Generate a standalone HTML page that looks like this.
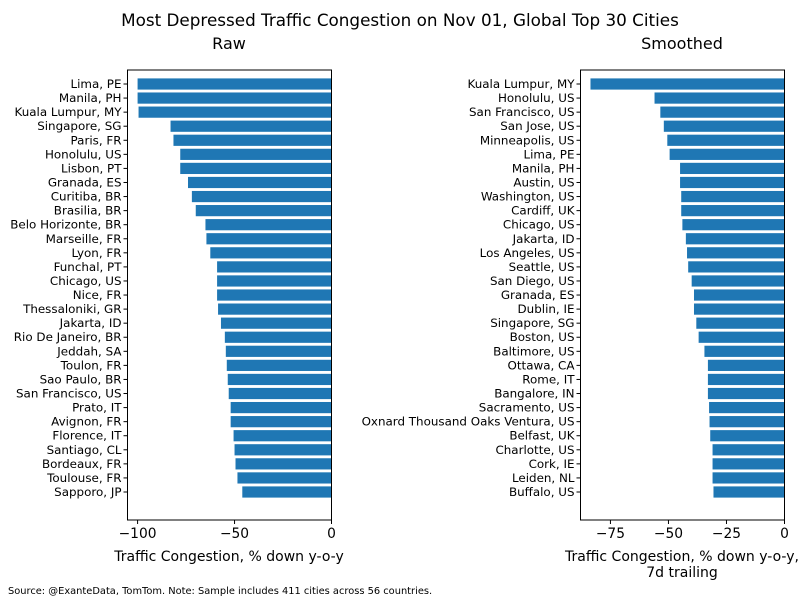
<!DOCTYPE html>
<html><head><meta charset="utf-8"><style>
body{margin:0;background:#fff;font-family:"DejaVu Sans","Liberation Sans",sans-serif}
svg text{font-family:"DejaVu Sans","Liberation Sans",sans-serif;fill:#000}
</style></head><body>
<svg id="c" width="800" height="600" xmlns="http://www.w3.org/2000/svg">
<text x="400" y="26" font-size="16.8" text-anchor="middle">Most Depressed Traffic Congestion on Nov 01, Global Top 30 Cities</text>
<text x="229" y="49" font-size="16" text-anchor="middle">Raw</text>
<text x="682" y="49" font-size="16" text-anchor="middle">Smoothed</text>
<text x="229" y="561" font-size="14" text-anchor="middle">Traffic Congestion, % down y-o-y</text>
<text x="682" y="561" font-size="14" text-anchor="middle">Traffic Congestion, % down y-o-y,</text>
<text x="682" y="577" font-size="14" text-anchor="middle">7d trailing</text>
<text x="8" y="594" font-size="9.85">Source: @ExanteData, TomTom.   Note: Sample includes 411 cities across 56 countries.</text>
</svg>
<script>
const rawCities=["Lima, PE","Manila, PH","Kuala Lumpur, MY","Singapore, SG","Paris, FR","Honolulu, US","Lisbon, PT","Granada, ES","Curitiba, BR","Brasilia, BR","Belo Horizonte, BR","Marseille, FR","Lyon, FR","Funchal, PT","Chicago, US","Nice, FR","Thessaloniki, GR","Jakarta, ID","Rio De Janeiro, BR","Jeddah, SA","Toulon, FR","Sao Paulo, BR","San Francisco, US","Prato, IT","Avignon, FR","Florence, IT","Santiago, CL","Bordeaux, FR","Toulouse, FR","Sapporo, JP"];
const rawValues=[-100,-100,-99.5,-83,-81.5,-78,-78,-74,-72,-70,-65,-64.5,-62.5,-59,-59,-59,-58.5,-57,-55,-54.5,-54,-53.5,-53,-52,-52,-50.5,-50,-49.5,-48.5,-46];
const rawTicks=[-100,-50,0];
const smCities=["Kuala Lumpur, MY","Honolulu, US","San Francisco, US","San Jose, US","Minneapolis, US","Lima, PE","Manila, PH","Austin, US","Washington, US","Cardiff, UK","Chicago, US","Jakarta, ID","Los Angeles, US","Seattle, US","San Diego, US","Granada, ES","Dublin, IE","Singapore, SG","Boston, US","Baltimore, US","Ottawa, CA","Rome, IT","Bangalore, IN","Sacramento, US","Oxnard Thousand Oaks Ventura, US","Belfast, UK","Charlotte, US","Cork, IE","Leiden, NL","Buffalo, US"];
const smValues=[-83.6,-56,-53.5,-52,-50.5,-49.5,-45,-45,-44.5,-44.5,-44,-42.5,-42,-41.5,-40,-39,-39,-38,-37,-34.5,-33,-33,-33,-32.5,-32.3,-32,-31,-31,-31,-30.6];
const smTicks=[-75,-50,-25,0];
const NS="http://www.w3.org/2000/svg";
const svg=document.getElementById('c');
function mk(t,a){const e=document.createElementNS(NS,t);for(const k in a)e.setAttribute(k,a[k]);svg.appendChild(e);return e;}
function panel(name,cats,vals,ticks,L,R,xmin,xmax){
  const T=70,B=520;
  const x=v=>L+(v-xmin)/(xmax-xmin)*(R-L);
  const n=cats.length;
  const yc=i=>84+(492-84)/(n-1)*i;
  cats.forEach((c,i)=>{
    const r=mk('rect',{x:x(vals[i]),y:yc(i)-5.6,width:x(0)-x(vals[i]),height:11.2,fill:'#1f77b4'});
    
    
    const tk=mk('line',{x1:L-4,x2:L,y1:yc(i),y2:yc(i),stroke:'#000','stroke-width':1});
    
    
    const t=mk('text',{x:L-6,y:yc(i)+4,'font-size':11.9,'text-anchor':'end'});
    t.textContent=c;
    
    
  });
  ticks.forEach(v=>{
    const tk=mk('line',{x1:x(v),x2:x(v),y1:B,y2:B+4,stroke:'#000','stroke-width':1});
    
    
    const t=mk('text',{x:x(v),y:B+18,'font-size':13.8,'text-anchor':'middle'});
    t.textContent=v<0?'\u2212'+(-v):v;
    
    
  });
  const f=mk('rect',{x:L,y:T,width:R-L,height:B-T,fill:'none',stroke:'#000','stroke-width':1});
  
  
}
panel('raw',rawCities,rawValues,rawTicks,127.5,331.5,-105.2,0);
panel('smoothed',smCities,smValues,smTicks,580.5,784.5,-87.9,0);
</script>
</body></html>
